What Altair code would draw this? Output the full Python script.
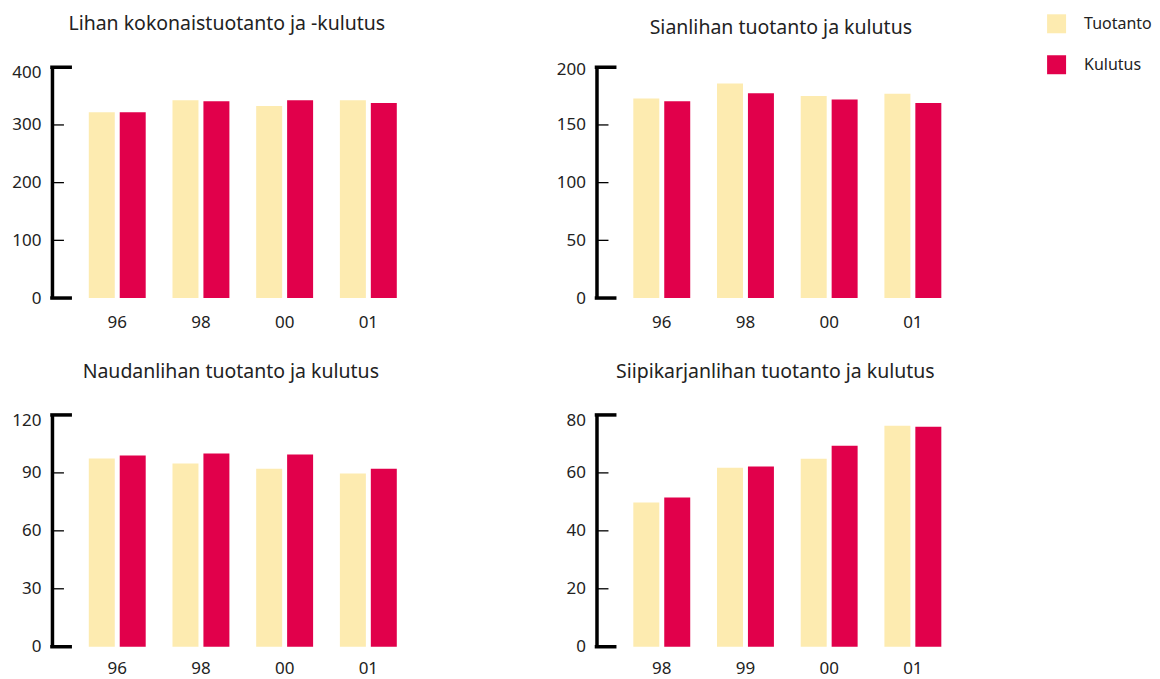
import altair as alt
import pandas as pd

FONT = "Noto Sans"
SERIES = ["Tuotanto", "Kulutus"]
COLORS = ["#FDEBB0", "#E1004B"]

years_a = ["96", "98", "00", "01"]
years_b = ["98", "99", "00", "01"]

liha_t = [322, 343, 333, 343]
liha_k = [322, 341, 343, 338]
sika_t = [173, 186, 175, 177]
sika_k = [170.5, 177.5, 172, 169]
nauta_t = [97.4, 94.8, 92.2, 89.7]
nauta_k = [99, 100, 99.5, 92.2]
siipi_t = [49.8, 61.8, 64.9, 76.3]
siipi_k = [51.5, 62.2, 69.4, 75.9]

ticks_liha = [0, 100, 200, 300, 400]
ticks_sika = [0, 50, 100, 150, 200]
ticks_nauta = [0, 30, 60, 90, 120]
ticks_siipi = [0, 20, 40, 60, 80]

titles = [
    "Lihan kokonaistuotanto ja -kulutus",
    "Sianlihan tuotanto ja kulutus",
    "Naudanlihan tuotanto ja kulutus",
    "Siipikarjanlihan tuotanto ja kulutus",
]


def panel(title, cats, t, k, ticks, height, t_offset, t_dx, top_shift, xlab_pad, legend=False):
    ymax = ticks[-1]
    df = pd.DataFrame({
        "vuosi": cats * 2,
        "sarja": [SERIES[0]] * len(cats) + [SERIES[1]] * len(cats),
        "arvo": t + k,
    })
    yscale = alt.Scale(domain=[0, ymax], nice=False, zero=True)
    if legend:
        leg = alt.Legend(
            title=None, orient="none", legendX=996, legendY=-53,
            symbolType="square", symbolSize=361, symbolStrokeWidth=0,
            symbolOpacity=1, labelFontSize=16, labelFont=FONT,
            labelColor="#222222", labelOffset=18, rowPadding=22, padding=0,
        )
    else:
        leg = None
    color = alt.Color(
        "sarja:N", sort=SERIES,
        scale=alt.Scale(domain=SERIES, range=COLORS),
        legend=leg,
    )
    bars = alt.Chart(df).mark_bar().encode(
        x=alt.X(
            "vuosi:N", sort=cats,
            scale=alt.Scale(paddingInner=0.32, paddingOuter=0.44),
            axis=alt.Axis(title=None, domain=False, ticks=False, grid=False,
                          labelAngle=0, labelPadding=xlab_pad, labelFontSize=17,
                          labelFont=FONT, labelColor="#222222"),
        ),
        xOffset=alt.XOffset("sarja:N", sort=SERIES,
                            scale=alt.Scale(paddingInner=0.16, paddingOuter=0)),
        y=alt.Y(
            "arvo:Q", scale=yscale,
            axis=alt.Axis(
                title=None, values=ticks, ticks=False, grid=False,
                domainWidth=3.5, domainColor="black", labelPadding=11,
                minExtent=44, maxExtent=44, labelFontSize=17, labelFont=FONT,
                labelColor="#222222",
                labelOffset={"condition": {"test": f"datum.value == {ymax}", "value": top_shift}, "value": 0},
            ),
        ),
        color=color,
    )
    ends = alt.Chart(pd.DataFrame({"v": [0, ymax]})).mark_rule(
        color="black", strokeWidth=3.5
    ).encode(
        y=alt.Y("v:Q", scale=yscale, axis=alt.Axis(title=None, grid=False)),
        x=alt.value(-1.75), x2=alt.value(20),
    )
    mids = alt.Chart(pd.DataFrame({"v": ticks[1:-1]})).mark_rule(
        color="black", strokeWidth=1.3
    ).encode(
        y=alt.Y("v:Q", scale=yscale, axis=alt.Axis(title=None, grid=False)),
        x=alt.value(0), x2=alt.value(12),
    )
    return alt.layer(bars, ends, mids).properties(
        width=382, height=height,
        title=alt.Title(title, offset=t_offset, dx=t_dx, fontSize=19.5, font=FONT,
                        fontWeight="normal", color="#222222", anchor="middle"),
    )


p1 = panel(titles[0], years_a, liha_t, liha_k, ticks_liha, 231, 29, -16, 5, 16, legend=True)
p2 = panel(titles[1], years_a, sika_t, sika_k, ticks_sika, 231, 22, -6.5, 2, 16)
p3 = panel(titles[2], years_a, nauta_t, nauta_k, ticks_nauta, 232, 29, -12, 6, 14)
p4 = panel(titles[3], years_b, siipi_t, siipi_k, ticks_siipi, 232, 29, -12, 6, 14)

chart = alt.concat(
    p1, p2, p3, p4, columns=2,
    spacing={"row": 117, "column": 163}, bounds="flush",
).properties(
    padding={"left": 0, "top": 5, "right": 0, "bottom": 0},
    background="white",
).configure_view(strokeWidth=0, stroke="transparent").configure_axis(grid=False)

chart.save("out.html", embed_options={"renderer": "svg", "actions": False})
